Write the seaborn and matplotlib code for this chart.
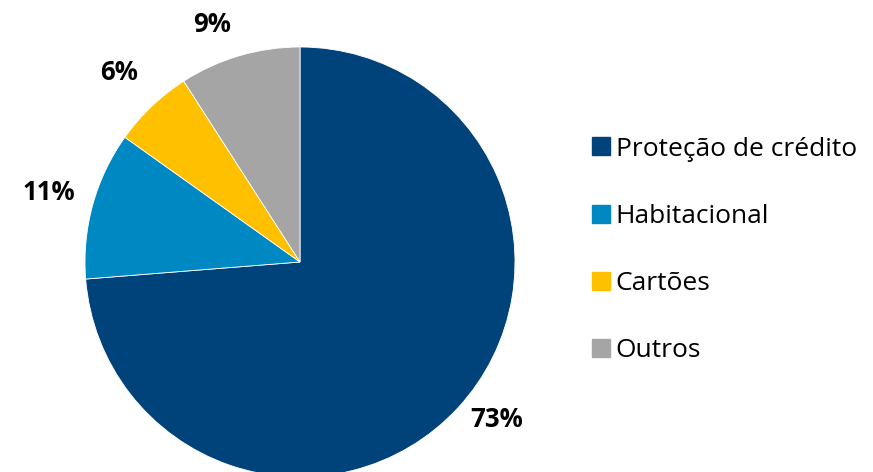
import matplotlib
matplotlib.use("Agg")
import matplotlib.pyplot as plt
from matplotlib.lines import Line2D
import numpy as np
import seaborn as sns

# dados do grafico
categorias = ["Proteção de crédito", "Habitacional", "Cartões", "Outros"]
valores = [73, 11, 6, 9]
rotulos = ["73%", "11%", "6%", "9%"]
cores = ["#00437A", "#0088C2", "#FFC000", "#A5A5A5"]

sns.set_theme(style="white")
plt.rcParams["font.family"] = ["Open Sans", "DejaVu Sans"]
plt.rcParams["text.color"] = "black"

W, H = 873, 472
fig = plt.figure(figsize=(W / 100, H / 100), dpi=100)
ax = fig.add_axes([0, 0, 1, 1])

cx, cy, r = 300, 210, 215
wedges, _ = ax.pie(
    valores,
    colors=cores,
    startangle=90,
    counterclock=False,
    center=(cx, cy),
    radius=r,
    frame=True,
    wedgeprops=dict(linewidth=0.6, edgecolor="white"),
)
ax.set_xlim(0, W)
ax.set_ylim(0, H)
ax.set_aspect("equal")
ax.axis("off")

# rotulos fora das fatias (distancia e ajuste de angulo a olho)
dist = [1.17, 1.21, 1.22, 1.18]
ajuste = [4, 0, 0, 4]
for w, txt, d, a in zip(wedges, rotulos, dist, ajuste):
    ang = np.deg2rad((w.theta1 + w.theta2) / 2 + a)
    ax.text(cx + d * r * np.cos(ang), cy + d * r * np.sin(ang), txt,
            ha="center", va="center", fontsize=18.5, fontweight="bold",
            color="black")

handles = [Line2D([0], [0], marker="s", linestyle="", markersize=13,
                  markerfacecolor=c, markeredgecolor=c) for c in cores]
leg = ax.legend(handles, categorias, loc="center left",
                bbox_to_anchor=(576 / W, 1 - 250 / H),
                bbox_transform=fig.transFigure,
                frameon=False, fontsize=19, labelspacing=1.6,
                handletextpad=0.1, handlelength=0.9, borderpad=0)
for t in leg.get_texts():
    t.set_color("black")

fig.savefig("out.png", dpi=100)
